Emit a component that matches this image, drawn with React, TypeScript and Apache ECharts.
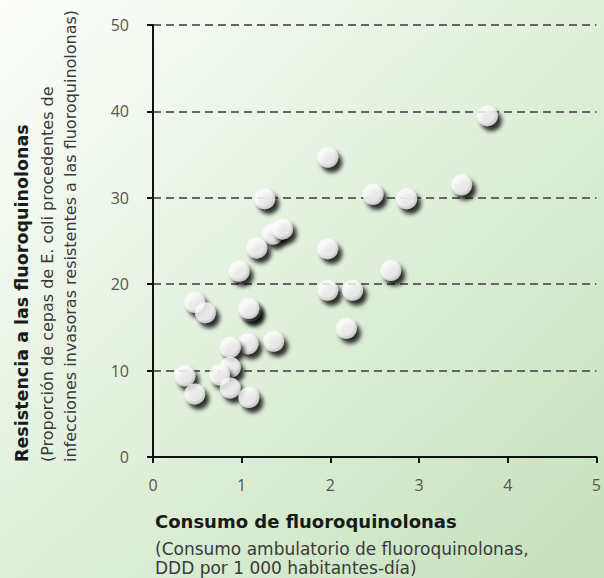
import React, { useEffect, useRef } from "react";
import * as echarts from "echarts";

const consumo: number[] = [3.77, 1.97, 2.48, 2.86, 3.48, 1.26, 1.35, 1.46, 1.17, 1.97, 2.68, 0.97, 1.97, 2.25, 0.47, 0.59, 1.1, 1.08, 2.18, 1.36, 1.07, 0.87, 0.87, 0.75, 0.36, 0.87, 0.47, 1.08];
const resistencia: number[] = [39.5, 34.7, 30.4, 29.9, 31.5, 29.9, 25.8, 26.4, 24.2, 24.1, 21.6, 21.5, 19.3, 19.3, 17.9, 16.7, 16.9, 17.2, 14.9, 13.4, 13.1, 12.7, 10.4, 9.5, 9.4, 8.0, 7.3, 6.9];
const xTicks: number[] = [0, 1, 2, 3, 4, 5];
const yTicks: number[] = [0, 10, 20, 30, 40, 50];

const yTitle = "Resistencia a las fluoroquinolonas";
const ySub1 = "(Proporción de cepas de E. coli procedentes de";
const ySub2 = "infecciones invasoras resistentes a las fluoroquinolonas)";
const xTitle = "Consumo de fluoroquinolonas";
const xSub1 = "(Consumo ambulatorio de fluoroquinolonas,";
const xSub2 = "DDD por 1 000 habitantes-día)";

export default function App() {
  const ref = useRef<HTMLDivElement>(null);
  useEffect(() => {
    document.body.style.margin = "0";
    const chart = echarts.init(ref.current!, null, { renderer: "svg" });
    const data = consumo.map((x, i) => [x, resistencia[i]]);
    const font = "'DejaVu Sans', sans-serif";
    const tickFont = "'Open Sans', 'DejaVu Sans', sans-serif";
    chart.setOption({
      animation: false,
      backgroundColor: new echarts.graphic.LinearGradient(0, 0, 1, 1, [
        { offset: 0, color: "#fdfefc" },
        { offset: 0.45, color: "#e3f1de" },
        { offset: 1, color: "#c5e1bb" },
      ]),
      grid: { left: 153, right: 7, top: 25, bottom: 121 },
      xAxis: {
        type: "value",
        min: xTicks[0],
        max: xTicks[xTicks.length - 1],
        interval: 1,
        axisLine: { show: true, onZero: false, lineStyle: { color: "#111", width: 2 } },
        axisTick: { show: true, length: 6, lineStyle: { color: "#111", width: 2 } },
        axisLabel: { color: "#555", fontSize: 16, fontFamily: tickFont, margin: 20 },
        splitLine: { show: false },
      },
      yAxis: {
        type: "value",
        min: yTicks[0],
        max: yTicks[yTicks.length - 1],
        interval: 10,
        axisLine: { show: true, onZero: false, lineStyle: { color: "#111", width: 2 } },
        axisTick: { show: true, length: 6, lineStyle: { color: "#111", width: 2 } },
        axisLabel: { color: "#555", fontSize: 16, fontFamily: tickFont, margin: 24 },
        splitLine: { show: true, lineStyle: { color: "#666", width: 2, type: [8, 5] } },
      },
      series: [
        {
          type: "scatter",
          data,
          symbol: "circle",
          symbolSize: 21,
          itemStyle: {
            color: new echarts.graphic.RadialGradient(0.42, 0.4, 0.6, [
              { offset: 0, color: "#ffffff" },
              { offset: 0.7, color: "#fbfbfb" },
              { offset: 1, color: "#d6d6d6" },
            ]),
            shadowColor: "rgba(0,0,0,1)",
            shadowBlur: 4,
            shadowOffsetX: 4,
            shadowOffsetY: 5,
          },
        },
      ],
      graphic: [
        {
          type: "text",
          x: 22,
          y: 462,
          rotation: Math.PI / 2,
          style: { text: yTitle, fill: "#1a1a1a", font: `bold 17.5px ${font}`, textAlign: "left", textVerticalAlign: "middle" },
        },
        {
          type: "text",
          x: 47,
          y: 462,
          rotation: Math.PI / 2,
          style: { text: ySub1, fill: "#3a3a3a", font: `16px ${font}`, textAlign: "left", textVerticalAlign: "middle" },
        },
        {
          type: "text",
          x: 70,
          y: 462,
          rotation: Math.PI / 2,
          style: { text: ySub2, fill: "#3a3a3a", font: `16px ${font}`, textAlign: "left", textVerticalAlign: "middle" },
        },
        {
          type: "text",
          x: 155,
          y: 521,
          style: { text: xTitle, fill: "#1a1a1a", font: `bold 18px ${font}`, textAlign: "left", textVerticalAlign: "middle" },
        },
        {
          type: "text",
          x: 155,
          y: 549,
          style: { text: xSub1, fill: "#3a3a3a", font: `17px ${font}`, textAlign: "left", textVerticalAlign: "middle" },
        },
        {
          type: "text",
          x: 155,
          y: 568,
          style: { text: xSub2, fill: "#3a3a3a", font: `17px ${font}`, textAlign: "left", textVerticalAlign: "middle" },
        },
      ],
    });
    return () => chart.dispose();
  }, []);
  return <div ref={ref} style={{ position: "fixed", left: 0, top: 0, width: 604, height: 578 }} />;
}
